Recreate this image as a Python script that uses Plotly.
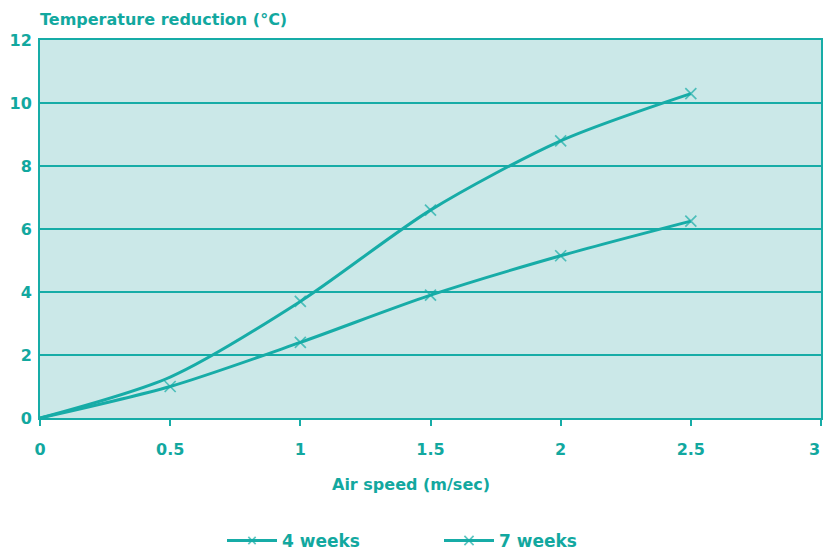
import plotly.graph_objects as go

air_speed_4 = [0, 0.5, 1.0, 1.5, 2.0, 2.5]
reduction_4 = [0, 1.3, 3.7, 6.6, 8.8, 10.3]
marker_4 = [0, 0, 1, 1, 1, 1]

air_speed_7 = [0, 0.5, 1.0, 1.5, 2.0, 2.5]
reduction_7 = [0, 1.0, 2.4, 3.9, 5.15, 6.25]
marker_7 = [0, 1, 1, 1, 1, 1]

x_ticks = [0, 0.5, 1, 1.5, 2, 2.5, 3]
x_tick_labels = ["0", "0.5", "1", "1.5", "2", "2.5", "3"]
y_ticks = [0, 2, 4, 6, 8, 10, 12]

LINE = "#17aca7"
TEXT = "#12a89f"
BG = "#cbe8e8"
FONT = "DejaVu Sans"
BOLD = dict(family=FONT, size=16, color=TEXT, weight="bold")

fig = go.Figure()
for name, xs, ys, mk in [("4 weeks", air_speed_4, reduction_4, marker_4),
                         ("7 weeks", air_speed_7, reduction_7, marker_7)]:
    fig.add_trace(go.Scatter(
        x=xs, y=ys, name=name, mode="lines+markers",
        line=dict(color=LINE, width=3, shape="spline", smoothing=0.8),
        marker=dict(symbol="x-thin-open", size=[11 * m for m in mk],
                    line=dict(color=LINE, width=1.7), color=LINE),
    ))

plot_h = 550 - 40 - 132
# last tick label is placed as an annotation so it sits inside the page edge
shown_tick_text = x_tick_labels[:-1] + [""]
fig.update_layout(
    width=824, height=550, autosize=False,
    margin=dict(l=40, r=3, t=40, b=132),
    paper_bgcolor="white", plot_bgcolor=BG,
    font=BOLD,
    showlegend=True,
    legend=dict(orientation="h", x=(222 - 40) / 781, xanchor="left", xref="paper",
                y=1 - 541 / 550, yanchor="middle", yref="container",
                font=dict(family=FONT, size=17, color=TEXT, weight="bold"),
                itemwidth=50, tracegroupgap=0, entrywidth=152),
    xaxis=dict(range=[0, 3], tickvals=x_ticks, ticktext=shown_tick_text, automargin=False,
               showgrid=False, zeroline=False, showline=True, linecolor=LINE, linewidth=2,
               mirror=True, ticks="outside", ticklen=6, tickcolor=LINE, tickwidth=2,
               tickfont=BOLD, ticklabelstandoff=10, ticklabeloverflow="allow"),
    yaxis=dict(range=[0, 12], tickvals=y_ticks, automargin=False,
               showgrid=True, gridcolor=LINE, gridwidth=1.5, zeroline=False,
               showline=True, linecolor=LINE, linewidth=2, mirror=True,
               ticks="", ticklabelstandoff=3,
               tickfont=BOLD),
    annotations=[
        dict(text="Temperature reduction (°C)", x=-2 / 781, xref="paper", xanchor="left",
             y=1 + (40 - 20) / plot_h, yref="paper", yanchor="middle", showarrow=False,
             font=BOLD),
        dict(text="Air speed (m/sec)", x=(411 - 40) / 781, xref="paper", xanchor="center",
             y=-(484 - 418) / plot_h, yref="paper", yanchor="middle", showarrow=False,
             font=BOLD),
        dict(text=x_tick_labels[-1], x=x_ticks[-1], xref="x", xanchor="right", xshift=1,
             y=-(449 - 418) / plot_h, yref="paper", yanchor="middle", showarrow=False,
             font=BOLD),
    ],
)

fig.write_html("out.html", config={"responsive": False, "displayModeBar": False},
               post_script="document.body.style.margin='0px';")
